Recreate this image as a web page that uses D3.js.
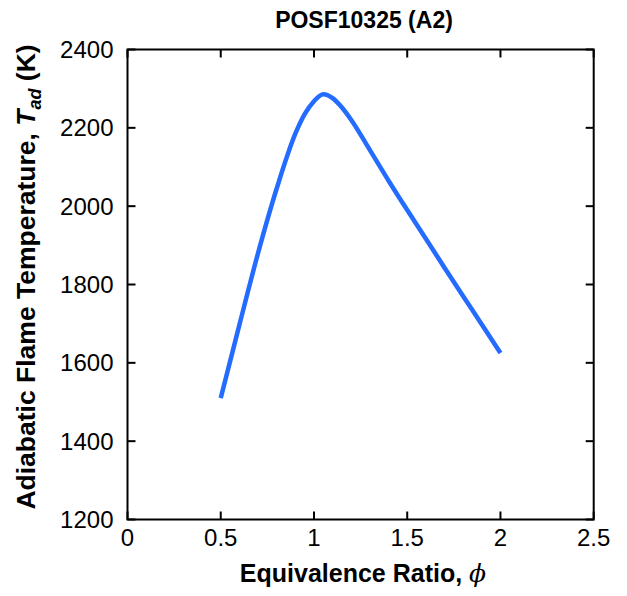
<!DOCTYPE html>
<html><head><meta charset="utf-8">
<script src="https://cdn.jsdelivr.net/npm/d3@7"></script>
<style>
html,body{margin:0;padding:0;background:#fff;}
svg{display:block;font-family:"Liberation Sans",Arial,sans-serif;}
</style></head>
<body>
<svg id="chart" width="627" height="596"></svg>
<script>
const phi = [0.5,0.6,0.7,0.8,0.9,0.95,1.0,1.05,1.1,1.15,1.2,1.3,1.4,1.5,1.6,1.7,1.8,1.9,2.0];
const tad = [1510,1697,1880,2045,2185,2235,2268,2286,2276,2252,2220,2143,2065,1990,1917,1843,1770,1698,1625];
const xTicks = [0,0.5,1,1.5,2,2.5];
const yTicks = [1200,1400,1600,1800,2000,2200,2400];
const title = "POSF10325 (A2)";

const svg = d3.select("#chart");
const L = 127.5, R = 593.7, T = 49.5, B = 519.5;
const x = d3.scaleLinear().domain([0,2.5]).range([L,R]);
const y = d3.scaleLinear().domain([1200,2400]).range([B,T]);

const tickLen = 8;
const g = svg.append("g");

// frame
g.append("rect").attr("x",L).attr("y",T).attr("width",R-L).attr("height",B-T)
  .attr("fill","none").attr("stroke","#000").attr("stroke-width",2);

// x ticks (bottom & top, inward)
xTicks.forEach(v=>{
  g.append("line").attr("x1",x(v)).attr("x2",x(v)).attr("y1",B).attr("y2",B-tickLen).attr("stroke","#000").attr("stroke-width",2);
  g.append("line").attr("x1",x(v)).attr("x2",x(v)).attr("y1",T).attr("y2",T+tickLen).attr("stroke","#000").attr("stroke-width",2);
  g.append("text").attr("x",x(v)).attr("y",B+26).attr("text-anchor","middle")
    .attr("font-size",24).attr("fill","#000").text(d3.format("")(v));
});
// y ticks
yTicks.forEach(v=>{
  g.append("line").attr("x1",L).attr("x2",L+tickLen).attr("y1",y(v)).attr("y2",y(v)).attr("stroke","#000").attr("stroke-width",2);
  g.append("line").attr("x1",R).attr("x2",R-tickLen).attr("y1",y(v)).attr("y2",y(v)).attr("stroke","#000").attr("stroke-width",2);
  g.append("text").attr("x",L-14).attr("y",y(v)+8.5).attr("text-anchor","end")
    .attr("font-size",24).attr("fill","#000").text(v);
});

// line
const line = d3.line().x((d,i)=>x(phi[i])).y(d=>y(d)).curve(d3.curveMonotoneX);
g.append("path").datum(tad).attr("d",line).attr("fill","none")
  .attr("stroke","#246bff").attr("stroke-width",4.5).attr("stroke-linejoin","round");

// title
svg.append("text").attr("x",364).attr("y",28).attr("text-anchor","middle")
  .attr("font-size",23).attr("font-weight","bold").text(title);

// x label
const xl = svg.append("text").attr("x",363).attr("y",582).attr("text-anchor","middle")
  .attr("font-size",25).attr("font-weight","bold");
xl.append("tspan").text("Equivalence Ratio, ");
xl.append("tspan").attr("font-style","italic").attr("font-family","DejaVu Serif").attr("font-weight","normal").text("ϕ");

// y label
const yl = svg.append("text").attr("transform","translate(35,277) rotate(-90)")
  .attr("text-anchor","middle").attr("font-size",26.5).attr("font-weight","bold");
yl.append("tspan").text("Adiabatic Flame Temperature, ");
yl.append("tspan").attr("font-style","italic").text("T");
yl.append("tspan").attr("font-style","italic").attr("font-size",18).attr("dy",6).text("ad");
yl.append("tspan").attr("dy",-6).text(" (K)");
</script>
</body></html>
